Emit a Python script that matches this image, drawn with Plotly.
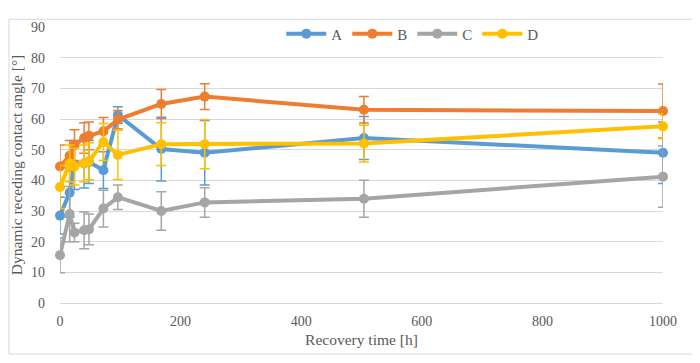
import plotly.graph_objects as go

t = [0, 16, 24, 40, 48, 72, 96, 168, 240, 504, 1000]
A = [28.5, 36, 45, 45.5, 46, 43.3, 61.3, 50.2, 49, 53.8, 49]
A_err = [6, 8, 8, 8, 7, 6, 2.7, 10.4, 10.5, 7, 10]
B = [44.5, 48, 51.5, 53.8, 54.5, 56, 59.8, 64.9, 67.3, 63, 62.6]
B_err = [7, 5, 5, 5, 4.5, 4.5, 3, 4.7, 4.2, 4.3, 8.8]
C = [15.6, 29, 23, 23.7, 24, 30.8, 34.5, 30, 32.8, 34, 41.2]
C_err = [5.7, 9, 3, 6, 5, 6, 4, 6.3, 4.8, 6, 10]
D = [37.8, 45.5, 44.5, 45.5, 46.2, 52.5, 48.3, 51.8, 51.8, 52, 57.6]
D_err = [7, 6, 6, 6, 6, 6, 8, 7, 8, 6, 4]

series = [("A", A, A_err, "#5B9BD5"), ("B", B, B_err, "#ED7D31"),
          ("C", C, C_err, "#A5A5A5"), ("D", D, D_err, "#FFC000")]

font = "Liberation Serif, Times New Roman, serif"
fig = go.Figure()
for name, y, e, col in series:
    fig.add_trace(go.Scatter(
        x=t, y=y, name=name, mode="lines+markers",
        line=dict(color=col, width=4),
        marker=dict(color=col, size=10),
        error_y=dict(type="data", array=e, visible=True, color=col, thickness=1.5, width=5),
        cliponaxis=False,
    ))

fig.update_layout(
    width=700, height=363,
    margin=dict(l=52, r=45, t=9, b=68),
    paper_bgcolor="white", plot_bgcolor="white",
    font=dict(family=font, size=14, color="#595959"),
    showlegend=True,
    legend=dict(orientation="h", x=0.585, xanchor="center", y=0.975, yanchor="middle",
                font=dict(family=font, size=15, color="#595959"),
                bgcolor="rgba(255,255,255,0)", itemwidth=40, tracegroupgap=0),
    xaxis=dict(range=[0, 1000], tickvals=[0, 200, 400, 600, 800, 1000], showgrid=False,
               zeroline=False, showline=False, ticks="", ticklabelstandoff=8,
               title=dict(text="Recovery time [h]", font=dict(family=font, size=15.5, color="#595959"), standoff=6)),
    yaxis=dict(range=[0, 90], dtick=10, showgrid=True, gridcolor="#D9D9D9", gridwidth=1,
               zeroline=True, zerolinecolor="#D9D9D9", zerolinewidth=1, ticks="", ticklabelstandoff=14,
               title=dict(text="Dynamic receding contact angle [°]", font=dict(family=font, size=15.5, color="#595959"), standoff=4)),
    shapes=[dict(type="rect", xref="paper", yref="paper",
                 x0=-0.0846, x1=1.0564, y0=-0.185, y1=1.028,
                 line=dict(color="#D9D9D9", width=1), fillcolor="rgba(0,0,0,0)", layer="below")],
)
fig.write_html("out.html")
